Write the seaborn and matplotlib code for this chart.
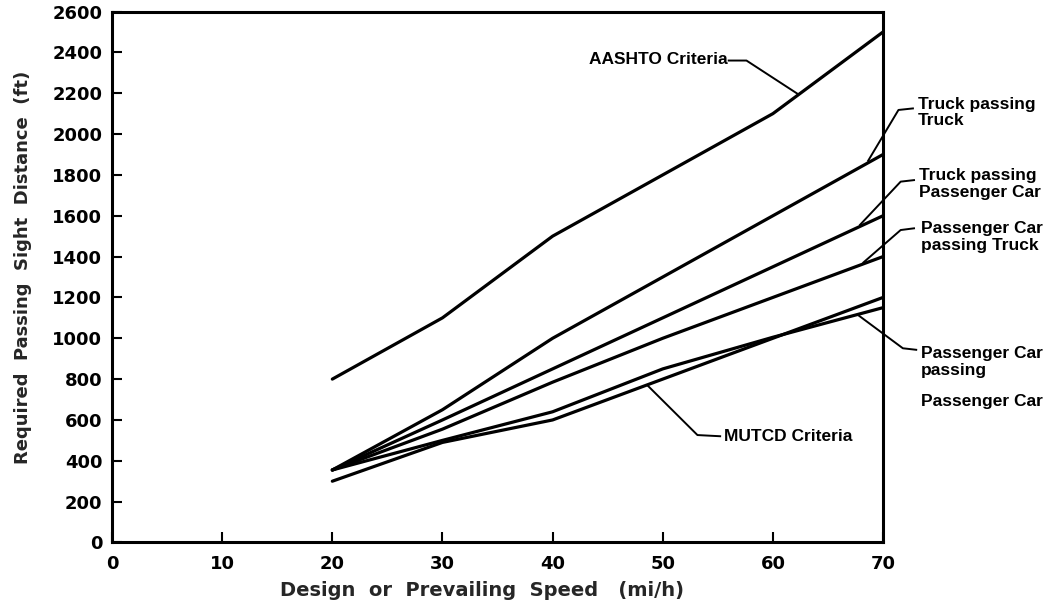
import pandas as pd
import seaborn as sns
import matplotlib.pyplot as plt

# values (ft), design speed in mi/h
speed = [20, 30, 40, 50, 60, 70]
aashto = [800, 1100, 1500, 1800, 2100, 2500]
truck_truck = [355, 650, 1000, 1300, 1600, 1900]
truck_car = [355, 600, 850, 1100, 1350, 1600]
car_truck = [355, 555, 785, 1000, 1200, 1400]
car_car = [355, 500, 640, 850, 1005, 1150]
mutcd = [300, 490, 600, 800, 1000, 1200]

series_names = ['AASHTO Criteria', 'Truck passing Truck', 'Truck passing Passenger Car',
                'Passenger Car passing Truck', 'Passenger Car passing Passenger Car',
                'MUTCD Criteria']
series_vals = [aashto, truck_truck, truck_car, car_truck, car_car, mutcd]

x_ticks = list(range(0, 71, 10))
y_ticks = list(range(0, 2601, 200))

rows = []
for name, vals in zip(series_names, series_vals):
    for s, d in zip(speed, vals):
        rows.append({'speed': s, 'psd': d, 'curve': name})
df = pd.DataFrame(rows)

sns.set_style('ticks')
plt.rcParams['font.family'] = ['DejaVu Sans']

fig = plt.figure(figsize=(10.54, 6.07), dpi=100)
ax = fig.add_axes([0.1063, 0.1063, 0.7315, 0.8747])

sns.lineplot(data=df, x='speed', y='psd', hue='curve', units='curve', estimator=None,
             sort=False, palette={n: 'black' for n in series_names}, legend=False,
             linewidth=2.3, ax=ax)

ax.set_xlim(0, 70)
ax.set_ylim(0, 2600)
ax.set_xticks(x_ticks)
ax.set_yticks(y_ticks)
ax.tick_params(direction='in', length=7, width=1.5, labelsize=13, colors='black')
ax.tick_params(axis='y', pad=7)
ax.tick_params(axis='x', pad=9)
for lab in ax.get_xticklabels() + ax.get_yticklabels():
    lab.set_fontweight('bold')
for sp in ax.spines.values():
    sp.set_linewidth(2.2)
    sp.set_color('black')

ax.set_xlabel('Design  or  Prevailing  Speed   (mi/h)', fontsize=14, fontweight='bold', va='center')
ax.xaxis.set_label_coords(0.48, -0.091)
ax.set_ylabel('Required  Passing  Sight  Distance  (ft)', fontsize=13, fontweight='bold', va='center')
ax.yaxis.set_label_coords(-0.115, 0.519)

# callout labels with leader lines
note_font = dict(family='Liberation Sans', fontsize=12.5, fontweight='bold', color='black')
lead = dict(color='black', linewidth=1.4, clip_on=False, solid_capstyle='butt')

ax.text(43.3, 2363, 'AASHTO Criteria', va='center', ha='left', **note_font)
ax.plot([55.9, 57.6, 62.3], [2360, 2360, 2195], **lead)

ax.text(73.15, 2106, 'Truck passing\nTruck', va='center', ha='left', linespacing=1.15, **note_font)
ax.plot([72.8, 71.4, 68.6], [2126, 2118, 1865], **lead)

ax.text(73.3, 1755, 'Truck passing\nPassenger Car', va='center', ha='left', linespacing=1.15, **note_font)
ax.plot([72.9, 71.6, 67.85], [1775, 1767, 1552], **lead)

ax.text(73.45, 1494, 'Passenger Car\npassing Truck', va='center', ha='left', linespacing=1.15, **note_font)
ax.plot([72.9, 71.6, 68.15], [1539, 1530, 1368], **lead)

ax.text(73.45, 885, 'Passenger Car\npassing', va='center', ha='left', linespacing=1.15, **note_font)
ax.text(73.45, 690, 'Passenger Car', va='center', ha='left', **note_font)
ax.plot([73.1, 71.8, 67.7], [943, 951, 1115], **lead)

ax.text(55.6, 518, 'MUTCD Criteria', va='center', ha='left', **note_font)
ax.plot([55.3, 53.15, 48.6], [520, 526, 770], **lead)

fig.savefig('out.png', dpi=100, facecolor='white')
